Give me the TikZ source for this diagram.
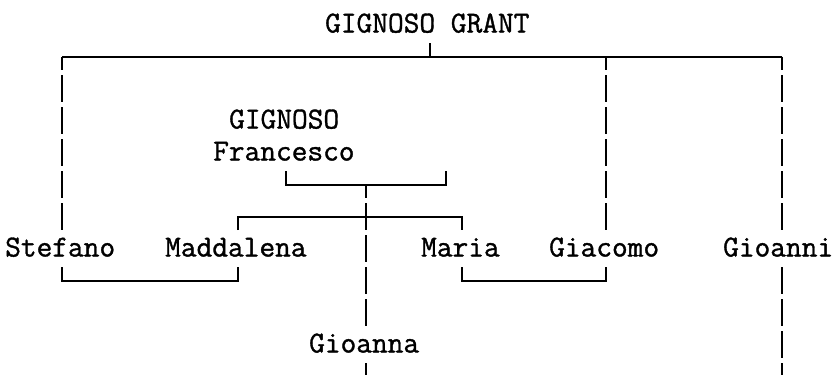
\documentclass[tikz,border=0pt]{standalone}
\usepackage{fontspec}
\newfontfamily\treefont{Latin Modern Mono}[FakeBold=1.2]
\begin{document}
\begin{tikzpicture}[x=1pt,y=-1pt,
  person/.style={anchor=base west, inner sep=0pt,
    font=\treefont\fontsize{30.5}{32}\selectfont},
  bar/.style={line width=2pt, line cap=butt, line join=miter},
  dashmid/.style={bar, dash pattern=on 27pt off 5pt, dash phase=13.5pt},
  dashtop/.style={bar, dash pattern=on 27pt off 5pt, dash phase=0pt}]
\useasboundingbox (0,0) rectangle (835,375);
% people
\node[person] (grant) at (325,32.5) {GIGNOSO GRANT};
\node[person] (gignoso) at (229,128.5) {GIGNOSO};
\node[person] (francesco) at (213,160.5) {Francesco};
\node[person] (stefano) at (5,256.5) {Stefano};
\node[person] (maddalena) at (165,256.5) {Maddalena};
\node[person] (maria) at (421,256.5) {Maria};
\node[person] (giacomo) at (549,256.5) {Giacomo};
\node[person] (gioanni) at (723,256.5) {Gioanni};
\node[person] (gioanna) at (309,352.5) {Gioanna};
% junction points
\coordinate (grantS) at (430,43);
\coordinate (grantJ) at (430,56.5);
\coordinate (topL) at (62,56.5);
\coordinate (topG) at (606,56.5);
\coordinate (topR) at (782,56.5);
\coordinate (stefT) at (62,230);
\coordinate (giacT) at (606,230);
\coordinate (gioniT) at (782,230);
\coordinate (frL) at (286,171);
\coordinate (frLc) at (286,184.5);
\coordinate (frR) at (446,171);
\coordinate (frRc) at (446,184.5);
\coordinate (frJ) at (366,184.5);
\coordinate (chL) at (238,216.5);
\coordinate (chR) at (462,216.5);
\coordinate (madT) at (238,230);
\coordinate (marT) at (462,230);
\coordinate (gnaT) at (366,326);
\coordinate (gnaB) at (366,363);
\coordinate (gnaE) at (366,375);
\coordinate (stefB) at (62,267);
\coordinate (stefBc) at (62,280.5);
\coordinate (madB) at (238,267);
\coordinate (madBc) at (238,280.5);
\coordinate (marB) at (462,267);
\coordinate (marBc) at (462,280.5);
\coordinate (giacB) at (606,267);
\coordinate (giacBc) at (606,280.5);
\coordinate (gioniB) at (782,267);
\coordinate (gioniE) at (782,375);
% top generation
\draw[bar] (grantS) -- (grantJ);
\draw[bar] (topL) -- (topR);
\draw[dashmid] (topL) -- (stefT);
\draw[dashmid] (topG) -- (giacT);
\draw[dashmid] (topR) -- (gioniT);
% Francesco bracket and children
\draw[bar] (frL) -- (frLc) -- (frRc) -- (frR);
\draw[dashmid] (frJ) -- (gnaT);
\draw[bar] (madT) -- (chL) -- (chR) -- (marT);
% marriages
\draw[bar] (stefB) -- (stefBc) -- (madBc) -- (madB);
\draw[bar] (marB) -- (marBc) -- (giacBc) -- (giacB);
% descendants
\draw[dashtop] (gnaB) -- (gnaE);
\draw[dashtop] (gioniB) -- (gioniE);
\end{tikzpicture}
\end{document}
